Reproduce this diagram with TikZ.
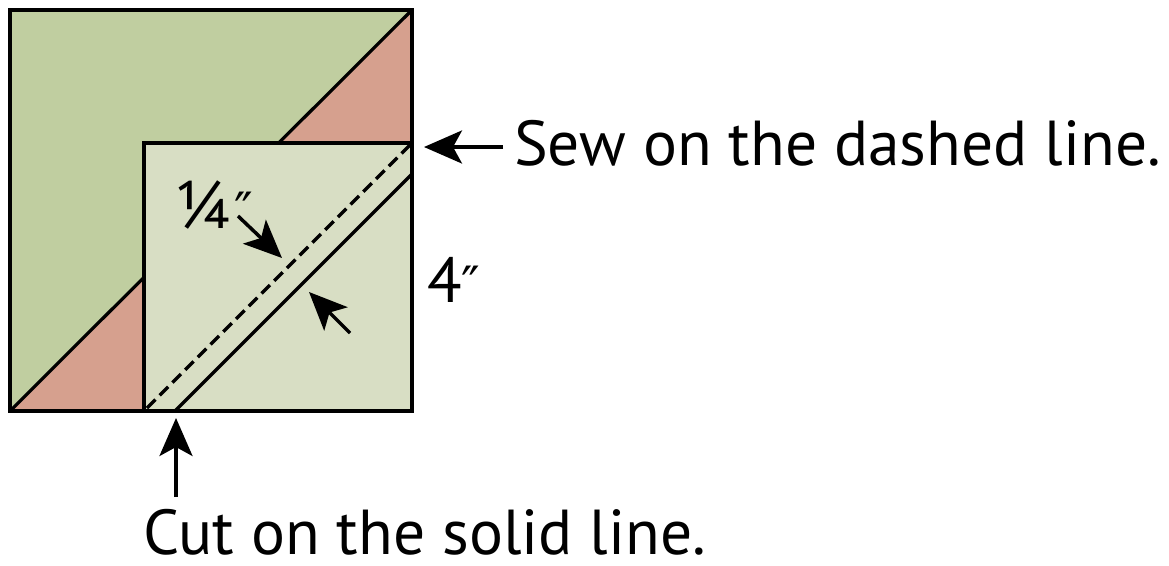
\documentclass[tikz,border=0pt]{standalone}
\usepackage{fontspec}
\setmainfont{PT Sans}
\newfontfamily\dvfont{DejaVu Sans}
\usetikzlibrary{arrows.meta}
\definecolor{qgreen}{RGB}{192,206,160}
\definecolor{qpink}{RGB}{214,160,142}
\definecolor{qlight}{RGB}{216,222,196}
\newcommand{\dprime}{{\dvfont\fontsize{50}{60}\selectfont ″}}
\tikzset{
  border/.style={line width=4pt, line join=miter},
  bigarrow/.style={line width=3.5pt, -{Stealth[length=38pt, width=33pt, inset=9pt]}},
  lbl/.style={inner sep=0pt, anchor=base west, text depth=0pt, font=\fontsize{63.5}{72}\selectfont},
}
\begin{document}
\begin{tikzpicture}[x=1pt, y=-1pt]
\useasboundingbox (0,0) rectangle (1169,565);
% big square corners
\coordinate (BTL) at (10,10);
\coordinate (BTR) at (412,10);
\coordinate (BBL) at (10,411);
\coordinate (BBR) at (412,411);
% small square corners
\coordinate (STL) at (144,143);
\coordinate (STR) at (412,143);
\coordinate (SBL) at (144,411);
\coordinate (SBR) at (412,411);
% fills
\fill[qgreen] (BTL) -- (BTR) -- (BBL) -- cycle;
\fill[qpink] (BTR) -- (BBR) -- (BBL) -- cycle;
\draw[line width=3.2pt] (BBL) -- (BTR);
\draw[border] (BTL) rectangle (BBR);
\draw[border, fill=qlight] (STL) rectangle (SBR);
% seam and cut lines
\coordinate (dashA) at (410,145);
\coordinate (dashB) at (146,409);
\draw[line width=3.5pt, dash pattern=on 12pt off 6pt] (dashA) -- (dashB);
\coordinate (cutA) at (412,174);
\coordinate (cutB) at (175,411);
\draw[line width=3.5pt] (cutA) -- (cutB);
% quarter inch arrows
\coordinate (qA1) at (238,216);
\coordinate (qA2) at (282,258);
\coordinate (qB1) at (350,333);
\coordinate (qB2) at (309,292);
\draw[bigarrow] (qA1) -- (qA2);
\draw[bigarrow] (qB1) -- (qB2);
% labels
\node[lbl] (sew) at (514,165) {Sew on the dashed line.};
\node[lbl] (cut) at (143,554) {Cut on the solid line.};
\node[lbl] (four) at (427,302) {4\dprime};
\node[lbl] (quarter) at (175,228) {{\fontsize{67}{72}\selectfont ¼}\kern3pt\dprime};
% label arrows
\coordinate (sewtail) at (503,147);
\coordinate (sewtip) at (424,147);
\draw[bigarrow] (sewtail) -- (sewtip);
\coordinate (cuttail) at (176,497);
\coordinate (cuttip) at (176,418);
\draw[bigarrow] (cuttail) -- (cuttip);
\end{tikzpicture}
\end{document}
